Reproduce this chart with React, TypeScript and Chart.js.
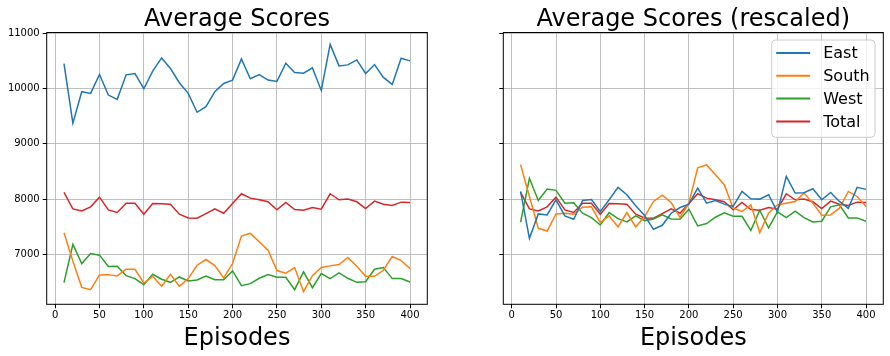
import React, { useEffect, useRef } from "react";
import { Chart, registerables } from "chart.js";

Chart.register(...registerables);

const episodes = [10, 20, 30, 40, 50, 60, 70, 80, 90, 100, 110, 120, 130, 140, 150, 160, 170, 180, 190, 200,
  210, 220, 230, 240, 250, 260, 270, 280, 290, 300, 310, 320, 330, 340, 350, 360, 370, 380, 390, 400];

const east = [10449, 9371, 9940, 9910, 10251, 9880, 9802, 10245, 10269, 9994, 10311, 10551, 10359, 10102, 9910, 9569, 9671, 9940, 10090, 10150,
  10533, 10174, 10251, 10150, 10126, 10455, 10287, 10275, 10371, 9964, 10796, 10407, 10425, 10515, 10269, 10431, 10198, 10072, 10545, 10497];
const south = [7394, 6880, 6406, 6364, 6630, 6636, 6612, 6733, 6733, 6485, 6606, 6424, 6642, 6424, 6564, 6806, 6909, 6800, 6576, 6836,
  7333, 7382, 7230, 7079, 6709, 6661, 6764, 6327, 6618, 6764, 6794, 6818, 6945, 6788, 6606, 6606, 6715, 6964, 6891, 6745];
const west = [6491, 7182, 6836, 7018, 6988, 6782, 6788, 6618, 6564, 6455, 6642, 6552, 6497, 6594, 6521, 6539, 6612, 6545, 6545, 6703,
  6436, 6473, 6570, 6636, 6588, 6588, 6364, 6685, 6400, 6655, 6564, 6667, 6570, 6497, 6509, 6733, 6764, 6564, 6564, 6503];
const total = [8121, 7824, 7788, 7861, 8036, 7806, 7758, 7927, 7927, 7727, 7921, 7915, 7909, 7727, 7661, 7655, 7739, 7824, 7745, 7921,
  8097, 8018, 7988, 7952, 7806, 7939, 7812, 7800, 7848, 7818, 8097, 7988, 8000, 7952, 7830, 7964, 7909, 7885, 7945, 7939];

const eastRescaled = [8139, 7291, 7733, 7715, 7988, 7697, 7636, 7976, 7994, 7776, 7988, 8212, 8079, 7879, 7703, 7455, 7527, 7745, 7848, 7909,
  8200, 7927, 7976, 7909, 7867, 8139, 8006, 8000, 8079, 7764, 8412, 8109, 8115, 8188, 7988, 8121, 7958, 7836, 8212, 8176];
const southRescaled = [8624, 8048, 7473, 7424, 7733, 7745, 7727, 7855, 7861, 7576, 7697, 7497, 7758, 7497, 7685, 7958, 8073, 7939, 7667, 7927,
  8564, 8618, 8442, 8261, 7836, 7776, 7897, 7394, 7745, 7897, 7927, 7958, 8109, 7927, 7709, 7715, 7836, 8139, 8048, 7867];
const westRescaled = [7582, 8376, 7976, 8182, 8158, 7927, 7933, 7745, 7667, 7533, 7758, 7648, 7588, 7697, 7612, 7642, 7715, 7642, 7636, 7818,
  7515, 7558, 7673, 7752, 7691, 7691, 7436, 7800, 7479, 7770, 7667, 7782, 7667, 7588, 7600, 7861, 7897, 7661, 7661, 7600];
const totalRescaled = total;

const seriesNames = ["East", "South", "West", "Total"];
const seriesColors = ["#1f77b4", "#ff7f0e", "#2ca02c", "#d62728"];
const xTicks = [0, 50, 100, 150, 200, 250, 300, 350, 400];
const yTicks = [7000, 8000, 9000, 10000, 11000];
const titles = ["Average Scores", "Average Scores (rescaled)"];
const xLabel = "Episodes";

const FONT = '"DejaVu Sans", sans-serif';

function makeDatasets(series: number[][]) {
  return series.map((vals, i) => ({
    label: seriesNames[i],
    data: episodes.map((x, j) => ({ x, y: vals[j] })),
    borderColor: seriesColors[i],
    backgroundColor: seriesColors[i],
    borderWidth: 1.5,
    pointRadius: 0,
    tension: 0,
    fill: false,
  }));
}

function framePlugin(title: string, showLegend: boolean) {
  return {
    id: "frameTitles",
    afterDraw(chart: any) {
      const { ctx, chartArea } = chart;
      const { left, right, top, bottom } = chartArea;
      ctx.save();
      // spines
      ctx.strokeStyle = "#000";
      ctx.lineWidth = 1;
      ctx.strokeRect(left, top, right - left, bottom - top);
      // title
      ctx.fillStyle = "#000";
      ctx.font = `24px ${FONT}`;
      ctx.textAlign = "center";
      ctx.textBaseline = "alphabetic";
      const cx = (left + right) / 2;
      ctx.fillText(title, cx, 25.7);
      ctx.fillText(xLabel, cx, 345);
      if (showLegend) {
        const bx = right - 111.6, by = top + 7.5, bw = 103.3, bh = 97.3, r = 4;
        ctx.beginPath();
        ctx.moveTo(bx + r, by);
        ctx.lineTo(bx + bw - r, by);
        ctx.quadraticCurveTo(bx + bw, by, bx + bw, by + r);
        ctx.lineTo(bx + bw, by + bh - r);
        ctx.quadraticCurveTo(bx + bw, by + bh, bx + bw - r, by + bh);
        ctx.lineTo(bx + r, by + bh);
        ctx.quadraticCurveTo(bx, by + bh, bx, by + bh - r);
        ctx.lineTo(bx, by + r);
        ctx.quadraticCurveTo(bx, by, bx + r, by);
        ctx.closePath();
        ctx.fillStyle = "rgba(255,255,255,0.8)";
        ctx.fill();
        ctx.strokeStyle = "#cccccc";
        ctx.lineWidth = 1;
        ctx.stroke();
        ctx.font = `16px ${FONT}`;
        ctx.textAlign = "left";
        ctx.textBaseline = "middle";
        seriesNames.forEach((name, i) => {
          const y = by + 13 + i * 22.8;
          ctx.strokeStyle = seriesColors[i];
          ctx.lineWidth = 2;
          ctx.beginPath();
          ctx.moveTo(bx + 4.5, y);
          ctx.lineTo(bx + 38.5, y);
          ctx.stroke();
          ctx.fillStyle = "#000";
          ctx.fillText(name, bx + 51.5, y + 1);
        });
      }
      ctx.restore();
    },
  };
}

function makeConfig(series: number[][], title: string, yWidth: number, padRight: number, showYLabels: boolean, showLegend: boolean): any {
  return {
    type: "line",
    data: { datasets: makeDatasets(series) },
    options: {
      animation: false,
      responsive: false,
      maintainAspectRatio: false,
      layout: { padding: { left: 0, right: padRight, top: 32.5, bottom: 0 } },
      plugins: { legend: { display: false }, title: { display: false }, tooltip: { enabled: false } },
      scales: {
        x: {
          type: "linear",
          min: -9.5,
          max: 419.5,
          afterBuildTicks: (s: any) => { s.ticks = xTicks.map((v) => ({ value: v })); },
          afterFit: (s: any) => { s.height = 51.7; },
          ticks: { font: { family: FONT, size: 10 }, color: "#000", padding: 1, maxRotation: 0, autoSkip: false },
          grid: { color: "#b0b0b0", lineWidth: 0.8, drawTicks: true, tickLength: 4, tickColor: "#000", tickWidth: 1 },
          border: { display: false },
        },
        y: {
          type: "linear",
          min: 6100,
          max: 11010,
          afterBuildTicks: (s: any) => { s.ticks = yTicks.map((v) => ({ value: v })); },
          afterFit: (s: any) => { s.width = yWidth; },
          ticks: {
            font: { family: FONT, size: 10 },
            color: "#000",
            padding: 3,
            callback: (v: any) => (showYLabels ? String(v) : ""),
          },
          grid: { color: "#b0b0b0", lineWidth: 0.8, drawTicks: true, tickLength: 4, tickColor: "#000", tickWidth: 1 },
          border: { display: false },
        },
      },
    },
    plugins: [framePlugin(title, showLegend)],
  };
}

export default function App() {
  const leftRef = useRef<HTMLCanvasElement>(null);
  const rightRef = useRef<HTMLCanvasElement>(null);

  useEffect(() => {
    const c1 = new Chart(leftRef.current as HTMLCanvasElement,
      makeConfig([east, south, west, total], titles[0], 46.7, 17.7, true, false));
    const c2 = new Chart(rightRef.current as HTMLCanvasElement,
      makeConfig([eastRescaled, southRescaled, westRescaled, totalRescaled], titles[1], 58.3, 6.7, false, true));
    return () => { c1.destroy(); c2.destroy(); };
  }, []);

  return (
    <div style={{ position: "fixed", left: 0, top: 0, width: 890, height: 356, background: "#fff" }}>
      <canvas ref={leftRef} width={445} height={356}
        style={{ position: "absolute", left: 0, top: 0, width: 445, height: 356 }} />
      <canvas ref={rightRef} width={445} height={356}
        style={{ position: "absolute", left: 445, top: 0, width: 445, height: 356 }} />
    </div>
  );
}
